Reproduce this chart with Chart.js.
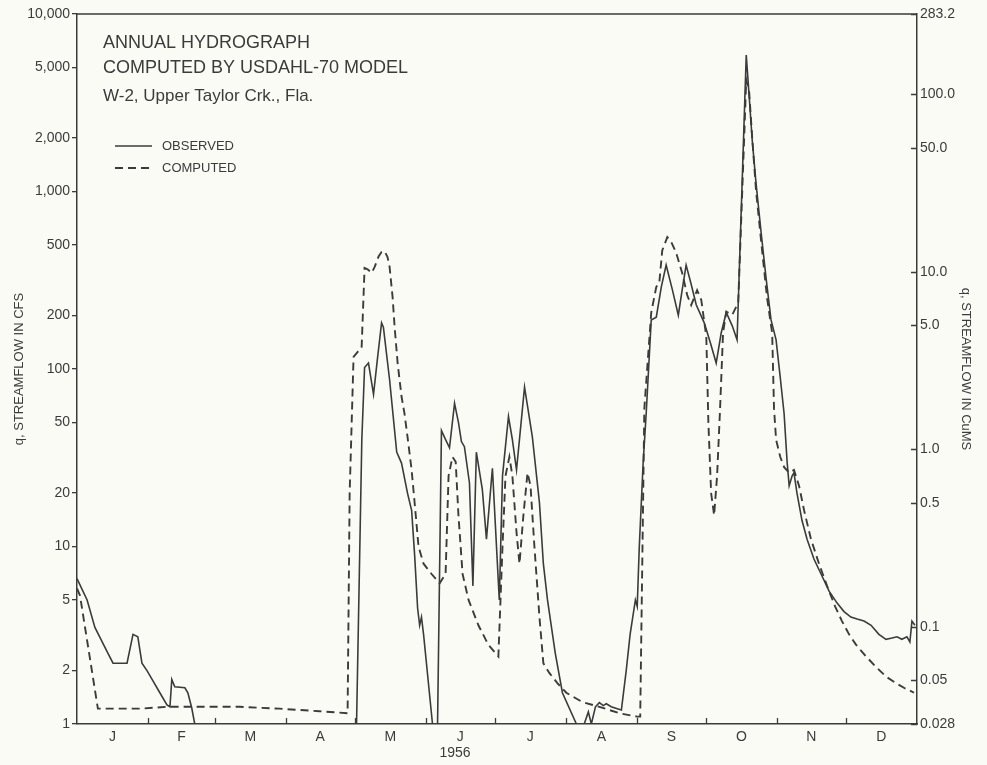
<!DOCTYPE html>
<html>
<head>
<meta charset="utf-8">
<script src="https://cdn.jsdelivr.net/npm/chart.js@4.4.1/dist/chart.umd.min.js"></script>
<style>
  html, body { margin: 0; padding: 0; background: #fbfbf5; }
  #wrap { width: 987px; height: 765px; }
</style>
</head>
<body>
<div id="wrap"><canvas id="hydro" width="987" height="765"></canvas></div>
<script>
// Day of year (1956) and streamflow in cfs; null marks flow below the 1 cfs floor of the plot
const observedDay = [
  0, 4.4, 7.8, 11.3, 13.5, 15.7, 21.8, 24.4, 26.5, 28.3, 30.5, 33.1, 36.1, 39.2, 40.5, 41.3, 42.6, 47.0, 48.3, 50.0, 51.3,
  52,
  121.8, 124.1, 125.3, 127.0, 129.2, 131.0, 132.7, 133.5, 136.2, 139.3, 141.4, 144.0, 145.8, 147.1, 148.4, 149.3, 150.1, 151.0, 154.9,
  156,
  157.1, 158.8, 160.6, 162.3, 164.5, 166.2, 167.5, 168.8, 171.0, 172.5, 174.0, 176.6, 178.4, 181.0, 184.0, 185.4, 188.0, 189.7,
  191.5, 195.0, 198.4, 201.5, 203.2, 205.0, 208.4, 211.5, 217.6,
  219,
  221.0, 222.8, 224.1, 225.9, 227.6, 229.3, 230.6, 232.8, 235.4, 237.2, 239.3, 241.0, 243.3, 244.1, 245.0, 246.7, 248.0,
  250.2, 252.4, 254.6, 256.7, 259.4, 262.0, 263.7, 265.4, 267.6, 269.8, 273.3, 276.0, 278.5, 280.7, 282.9, 285.5, 287.6,
  291.6, 292.9, 294.2, 295.9, 298.1, 300.3, 302.4, 304.6, 306.4, 308.1, 309.4, 310.3, 311.6, 312.4, 313.7, 315.9, 318.1,
  321.1, 324.2, 327.7, 331.2, 334.2, 337.2, 339.9, 342.9, 346.0, 349.4, 352.5, 355.1, 357.3, 359.4, 361.6, 362.9, 363.8, 365.1
];
const observedCfs = [
  6.6, 5.0, 3.5, 2.85, 2.5, 2.2, 2.2, 3.2, 3.1, 2.2, 2.0, 1.75, 1.5, 1.28, 1.25, 1.78, 1.62, 1.6, 1.5, 1.23, 1.0,
  null,
  1.0, 40, 102, 108, 72, 117, 182, 172, 87, 34, 29.5, 20, 16, 9, 4.5, 3.6, 4.0, 3.2, 1.0,
  null,
  1.0, 45, 40, 36, 64, 50, 39, 36.5, 22.8, 6, 34, 21, 11, 27.6, 5, 25, 54, 40,
  27, 79, 41.5, 17.6, 8, 5, 2.5, 1.5, 1.0,
  null,
  1.0, 1.17, 1.0, 1.25, 1.32, 1.27, 1.3, 1.25, 1.22, 1.2, 2.0, 3.2, 5.0, 4.6, 10, 30, 56,
  189, 196, 290, 385, 280, 201, 280, 385, 300, 230, 182, 140, 108, 160, 208, 175, 146,
  5870, 3400, 1950, 1100, 584, 320, 189, 146, 90, 56, 30, 22, 25, 26, 20, 14, 11,
  8.5, 7, 5.6, 4.8, 4.3, 4.0, 3.9, 3.8, 3.6, 3.2, 3.0, 3.05, 3.1, 3.0, 3.1, 2.9, 3.8, 3.6
];

const computedDay = [
  0, 1.3, 9.1, 27.4, 39.2, 70.9, 88.3, 105.7, 117.9, 118.8, 120.5, 122.3, 124.0, 125.3, 126.6, 128.4, 129.7, 131.4,
  132.7, 134.0, 135.3, 136.2, 137.5, 138.4, 139.7, 141.4, 142.7, 144.0, 145.8, 147.1, 148.8, 151.0, 154.5, 158.0,
  160.6, 161.9, 163.6, 165.0, 166.2, 168.0, 170.6, 174.9, 179.2, 183.6, 185.4, 186.7, 188.4, 189.7, 191.5, 192.8,
  194.5, 196.3, 197.6, 199.3, 201.5, 203.2, 205.8, 209.3, 213.2, 220.2, 227.6, 236.3, 244.1, 245.4, 247.2, 248.5,
  250.2, 252.4, 253.7, 255.0, 257.2, 258.9, 261.1, 263.7, 265.9, 267.6, 270.2, 272.0, 274.2, 275.1, 276.3, 277.6,
  278.9, 280.2, 281.5, 282.9, 285.5, 288.1, 291.6, 292.9, 294.2, 295.9, 298.5, 300.7, 302.9, 303.7, 304.6, 306.4,
  308.1, 310.3, 312.4, 314.6, 316.8, 319.8, 323.3, 326.8, 330.3, 333.3, 336.4, 339.4, 343.8, 348.1, 352.5, 356.8,
  360.3, 362.5, 364.7
];
const computedCfs = [
  5.8, 5.3, 1.22, 1.22, 1.25, 1.25, 1.22, 1.18, 1.15, 20, 117, 125, 131, 371, 365, 348, 376, 430,
  456, 461, 427, 376, 255, 172, 108, 70, 56, 41.6, 27, 17.7, 10, 8, 7, 6.2,
  7, 25, 32, 30, 15, 7, 5, 3.6, 2.8, 2.4, 10, 25, 32, 25, 12, 8,
  15, 26, 22, 10, 4, 2.2, 1.94, 1.7, 1.5, 1.33, 1.25, 1.15, 1.1, 1.1, 60, 103,
  208, 290, 304, 466, 553, 520, 450, 347, 260, 229, 278, 245, 152, 50, 20, 15,
  25, 60, 160, 210, 202, 236, 4250, 3600, 2000, 1000, 466, 250, 159, 60, 40, 32,
  28, 26, 27, 22, 16, 11, 8, 6, 4.6, 3.8, 3.2, 2.8, 2.4, 2.1, 1.85, 1.7,
  1.6, 1.55, 1.5
];

// Calendar of 1956 (leap year)
const monthLabels = ['J', 'F', 'M', 'A', 'M', 'J', 'J', 'A', 'S', 'O', 'N', 'D'];
const monthStartDay = [0, 31, 60, 91, 121, 152, 182, 213, 244, 274, 305, 335, 366];

// Axis ticks: cfs on the left, cubic metres per second on the right
const CMS_PER_CFS = 0.02832;
const cfsTicks = [1, 2, 5, 10, 20, 50, 100, 200, 500, 1000, 2000, 5000, 10000];
const cfsTickLabels = ['1', '2', '5', '10', '20', '50', '100', '200', '500', '1,000', '2,000', '5,000', '10,000'];
const cmsTicks = [0.02832, 0.05, 0.1, 0.5, 1, 5, 10, 50, 100, 283.2];
const cmsTickLabels = ['0.028', '0.05', '0.1', '0.5', '1.0', '5.0', '10.0', '50.0', '100.0', '283.2'];

const INK = '#3b3b3b';
const FONT = '"Liberation Sans", Arial, sans-serif';

const toPoints = (days, flows) => days.map((d, i) => ({ x: d, y: flows[i] }));
const monthMid = monthLabels.map((_, i) => (monthStartDay[i] + monthStartDay[i + 1]) / 2);

const paper = {
  id: 'paper',
  beforeDraw(chart) {
    const { ctx, width, height } = chart;
    ctx.save();
    ctx.fillStyle = '#fbfbf5';
    ctx.fillRect(0, 0, width, height);
    ctx.restore();
  }
};

const frameAndNotes = {
  id: 'frameAndNotes',
  afterDraw(chart) {
    const { ctx, chartArea: a, scales } = chart;
    ctx.save();
    ctx.strokeStyle = INK;
    ctx.lineWidth = 1.3;
    ctx.beginPath();
    // top edge of the frame
    ctx.moveTo(a.left, a.top);
    ctx.lineTo(a.right, a.top);
    // month boundaries, ticked upward from the time axis
    monthStartDay.slice(1, -1).forEach(d => {
      const px = Math.round(scales.x.getPixelForValue(d)) + 0.5;
      ctx.moveTo(px, a.bottom);
      ctx.lineTo(px, a.bottom - 6);
    });
    // metric ticks, pointing inward from the right axis
    cmsTicks.forEach(v => {
      const py = Math.round(scales.cms.getPixelForValue(v)) + 0.5;
      ctx.moveTo(a.right - 6, py);
      ctx.lineTo(a.right, py);
    });
    ctx.stroke();

    // heading
    ctx.fillStyle = INK;
    ctx.textBaseline = 'middle';
    ctx.textAlign = 'left';
    ctx.font = '18px ' + FONT;
    ctx.fillText('ANNUAL HYDROGRAPH', 103, 43);
    ctx.fillText('COMPUTED BY USDAHL-70 MODEL', 103, 68);
    ctx.font = '17px ' + FONT;
    ctx.fillText('W-2, Upper Taylor Crk., Fla.', 103, 96);

    // key
    const ds = chart.data.datasets;
    [146, 168].forEach((y, i) => {
      ctx.beginPath();
      ctx.lineWidth = ds[i].borderWidth;
      ctx.setLineDash(ds[i].borderDash || []);
      ctx.moveTo(115, y);
      ctx.lineTo(152, y);
      ctx.stroke();
      ctx.setLineDash([]);
      ctx.font = '13px ' + FONT;
      ctx.fillText(ds[i].label, 162, y);
    });

    // year under the time axis
    ctx.font = '14px ' + FONT;
    ctx.textAlign = 'center';
    ctx.fillText('1956', 455, 753);
    ctx.restore();
  }
};

new Chart(document.getElementById('hydro'), {
  type: 'line',
  data: {
    datasets: [
      {
        label: 'OBSERVED',
        data: toPoints(observedDay, observedCfs),
        borderColor: INK,
        borderWidth: 1.6,
        pointRadius: 0,
        tension: 0,
        spanGaps: false,
        yAxisID: 'y'
      },
      {
        label: 'COMPUTED',
        data: toPoints(computedDay, computedCfs),
        borderColor: INK,
        borderWidth: 1.9,
        borderDash: [8, 5],
        pointRadius: 0,
        tension: 0,
        spanGaps: false,
        yAxisID: 'y'
      }
    ]
  },
  options: {
    responsive: false,
    animation: false,
    devicePixelRatio: 1,
    layout: { padding: { top: 14, left: 0, right: 0, bottom: 0 } },
    plugins: { legend: { display: false }, tooltip: { enabled: false } },
    scales: {
      x: {
        type: 'linear',
        min: 0,
        max: 366,
        afterBuildTicks: s => { s.ticks = monthMid.map(v => ({ value: v })); },
        afterFit: s => { s.height = 41; },
        ticks: {
          autoSkip: false,
          maxRotation: 0,
          padding: 5,
          color: INK,
          font: { family: FONT, size: 14 },
          callback: (v, i) => monthLabels[i]
        },
        grid: { display: false, drawTicks: false },
        border: { display: true, color: INK, width: 1.5 }
      },
      y: {
        type: 'logarithmic',
        position: 'left',
        min: 1,
        max: 10000,
        afterBuildTicks: s => { s.ticks = cfsTicks.map(v => ({ value: v })); },
        afterFit: s => { s.width = 77; },
        ticks: {
          autoSkip: false,
          padding: 2,
          color: INK,
          font: { family: FONT, size: 14 },
          callback: v => cfsTickLabels[cfsTicks.indexOf(v)]
        },
        grid: { drawOnChartArea: false, drawTicks: true, tickLength: 5, color: INK, lineWidth: 1.3 },
        border: { display: true, color: INK, width: 1.5 },
        title: {
          display: true,
          text: 'q, STREAMFLOW IN CFS',
          color: INK,
          font: { family: FONT, size: 13 },
          padding: { top: 12, bottom: 0 }
        }
      },
      cms: {
        type: 'logarithmic',
        position: 'right',
        min: CMS_PER_CFS * 1,
        max: CMS_PER_CFS * 10000,
        afterBuildTicks: s => { s.ticks = cmsTicks.map(v => ({ value: v })); },
        afterFit: s => { s.width = 70; },
        ticks: {
          autoSkip: false,
          padding: 3,
          color: INK,
          font: { family: FONT, size: 14 },
          callback: v => cmsTickLabels[cmsTicks.indexOf(v)]
        },
        grid: { display: false, drawTicks: false },
        border: { display: true, color: INK, width: 1.5 },
        title: {
          display: true,
          text: 'q, STREAMFLOW IN CuMS',
          color: INK,
          font: { family: FONT, size: 13 },
          padding: { top: 14, bottom: 0 }
        }
      }
    }
  },
  plugins: [paper, frameAndNotes]
});
</script>
</body>
</html>
